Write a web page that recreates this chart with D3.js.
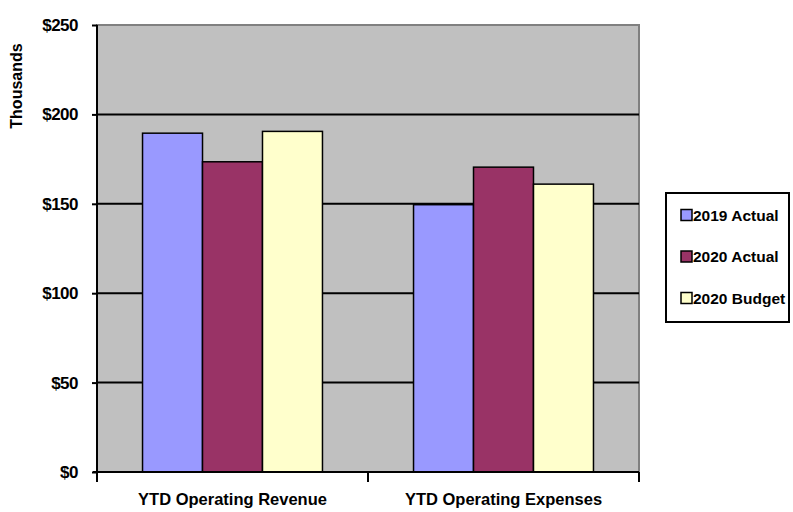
<!DOCTYPE html>
<html>
<head>
<meta charset="utf-8">
<script src="https://cdn.jsdelivr.net/npm/d3@7"></script>
<style>
  body { margin: 0; background: #fff; }
  text { font-family: "Liberation Sans", Arial, sans-serif; font-weight: bold; fill: #000; }
</style>
</head>
<body>
<script>
// chart data
var categories = ["YTD Operating Revenue", "YTD Operating Expenses"];
var seriesNames = ["2019 Actual", "2020 Actual", "2020 Budget"];
var actual2019 = [189.5, 149.5];
var actual2020 = [173.5, 170.5];
var budget2020 = [190.5, 161];
var yTicks = [0, 50, 100, 150, 200, 250];

var colors = ["#9999FF", "#993366", "#FFFFCC"];
var seriesValues = [actual2019, actual2020, budget2020];

// layout
var margin = {top: 25, right: 154, bottom: 40, left: 97};
var width = 793 - margin.left - margin.right;
var height = 512 - margin.top - margin.bottom;

var svg = d3.select("body").append("svg")
    .attr("width", 793)
    .attr("height", 512);

var g = svg.append("g")
    .attr("transform", "translate(" + margin.left + "," + margin.top + ")");

// scales
var x0 = d3.scaleBand().domain(categories).range([0, width]).paddingInner(0).paddingOuter(0);
var x1 = d3.scaleBand().domain(seriesNames).range([0, x0.bandwidth() * 0.664])
var groupOffset = (x0.bandwidth() - x1.range()[1]) / 2;
var y = d3.scaleLinear().domain([0, 250]).range([height, 0]);

// plot background
g.append("rect")
    .attr("width", width)
    .attr("height", height)
    .attr("fill", "#C0C0C0")
    .attr("stroke", "#808080")
    .attr("stroke-width", 2);

// gridlines
g.selectAll(".grid")
    .data(yTicks.filter(function(d) { return d > 0 && d < 250; }))
    .enter().append("line")
    .attr("x1", 0)
    .attr("x2", width)
    .attr("y1", function(d) { return y(d); })
    .attr("y2", function(d) { return y(d); })
    .attr("stroke", "#000")
    .attr("stroke-width", 2);

// bars
var groups = g.selectAll(".grp")
    .data(categories)
    .enter().append("g")
    .attr("transform", function(d) { return "translate(" + (x0(d) + groupOffset) + ",0)"; });

groups.selectAll("rect")
    .data(function(d, i) {
        return seriesNames.map(function(s, j) { return {s: s, v: seriesValues[j][i], c: colors[j]}; });
    })
    .enter().append("rect")
    .attr("x", function(d) { return x1(d.s); })
    .attr("width", x1.bandwidth())
    .attr("y", function(d) { return y(d.v); })
    .attr("height", function(d) { return height - y(d.v); })
    .attr("fill", function(d) { return d.c; })
    .attr("stroke", "#000")
    .attr("stroke-width", 1.5);

// y axis
var yAxis = g.append("g")
    .call(d3.axisLeft(y).tickValues(yTicks).tickSize(5).tickFormat(function(d) { return "$" + d; }));
yAxis.select(".domain").attr("stroke", "#000").attr("stroke-width", 2)
    .attr("d", "M0,0V" + height);
yAxis.selectAll(".tick line").attr("stroke", "#000").attr("stroke-width", 2);
yAxis.selectAll(".tick text")
    .attr("x", -19)
    .style("font-size", "17px")
    .style("letter-spacing", "-0.5px")
    .style("font-family", "'Liberation Sans', Arial, sans-serif")
    .style("font-weight", "bold");

// x axis
var xAxis = g.append("g")
    .attr("transform", "translate(0," + height + ")")
    .call(d3.axisBottom(x0).tickSize(0).tickSizeOuter(0));
xAxis.select(".domain").attr("stroke", "#000").attr("stroke-width", 2)
    .attr("d", "M-4,0H" + width);
xAxis.selectAll(".tick text")
    .attr("y", 21)
    .style("font-size", "16.5px")
    .style("font-family", "'Liberation Sans', Arial, sans-serif")
    .style("font-weight", "bold");

// category separators on x axis
g.selectAll(".xsep")
    .data([0, 1, 2])
    .enter().append("line")
    .attr("x1", function(d) { return d * x0.bandwidth(); })
    .attr("x2", function(d) { return d * x0.bandwidth(); })
    .attr("y1", height)
    .attr("y2", height + 10)
    .attr("stroke", "#000")
    .attr("stroke-width", 2);

// y axis title
svg.append("text")
    .attr("transform", "translate(22,86) rotate(-90)")
    .attr("text-anchor", "middle")
    .style("font-size", "16px")
    .text("Thousands");

// legend
var legend = svg.append("g").attr("transform", "translate(666,193)");
legend.append("rect")
    .attr("width", 123)
    .attr("height", 129)
    .attr("fill", "#fff")
    .attr("stroke", "#000")
    .attr("stroke-width", 2);

var items = legend.selectAll(".item")
    .data(seriesNames)
    .enter().append("g")
    .attr("transform", function(d, i) { return "translate(15," + (22 + i * 41.5) + ")"; });

items.append("rect")
    .attr("x", 0)
    .attr("y", -5.5)
    .attr("width", 11)
    .attr("height", 11)
    .attr("fill", function(d, i) { return colors[i]; })
    .attr("stroke", "#000")
    .attr("stroke-width", 1.5);

items.append("text")
    .attr("x", 12)
    .attr("dy", "0.36em")
    .style("font-size", "15.5px")
    .text(function(d) { return d; });
</script>
</body>
</html>
